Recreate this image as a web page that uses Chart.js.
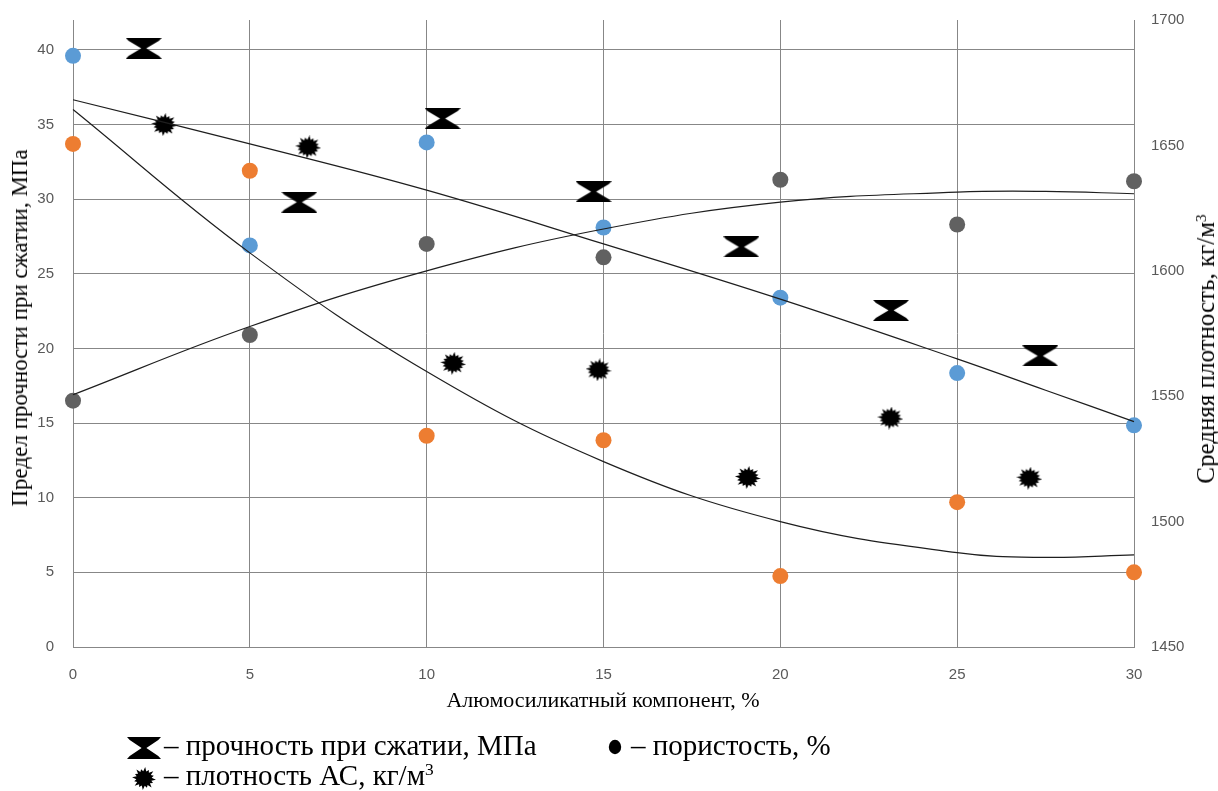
<!DOCTYPE html>
<html lang="ru">
<head>
<meta charset="utf-8">
<title>Прочность, плотность и пористость</title>
<script src="https://cdn.jsdelivr.net/npm/chart.js@4.4.1/dist/chart.umd.min.js"></script>
<style>
  html, body { margin: 0; padding: 0; background: #fff; }
  body { width: 1218px; height: 791px; position: relative; overflow: hidden; }
  #chart { position: absolute; left: 0; top: 0; }
  .ttl { position: absolute; white-space: nowrap; font-family: "Liberation Serif", "Times New Roman", serif; font-size: 22px; color: #000; }
  .rot { transform: translate(-50%, -50%) rotate(-90deg); }
  .hc { transform: translate(-50%, -50%); }
  .lg { position: absolute; white-space: nowrap; font-family: "Liberation Serif", "Times New Roman", serif; font-size: 29px; color: #000; line-height: 1; }
  .ico { position: absolute; }
  sup { font-size: 0.6em; vertical-align: 0.55em; line-height: 0; }
</style>
</head>
<body>
<canvas id="chart" width="1218" height="791"></canvas>

<div class="ttl rot" style="left:20px; top:328px; font-size:23px;">Предел прочности при сжатии, МПа</div>
<div class="ttl rot" style="left:1206px; top:349px; font-size:25px;">Средняя плотность, кг/м<sup>3</sup></div>
<div class="ttl hc" style="left:603px; top:700px;">Алюмосиликатный компонент, %</div>

<canvas class="ico" id="icoStrength" width="34" height="22" style="left:127px; top:737px;"></canvas>
<div class="lg" style="left:164px; top:731px;">– прочность при сжатии, МПа</div>
<canvas class="ico" id="icoPoro" width="14" height="16" style="left:608px; top:739px;"></canvas>
<div class="lg" style="left:631px; top:731px;">– пористость, %</div>
<canvas class="ico" id="icoDensity" width="24" height="23" style="left:132px; top:767px;"></canvas>
<div class="lg" style="left:164px; top:761px;">– плотность АС, кг/м<sup>3</sup></div>

<script>
// Composition, % of aluminosilicate component (points on the grid)
const contentX = [0, 5, 10, 15, 20, 25, 30];
const blueVals = [39.6, 26.9, 33.8, 28.1, 23.4, 18.35, 14.85];
const orangeVals = [33.7, 31.9, 14.15, 13.85, 4.75, 9.7, 5.0];
// пористость, %
const porosityVals = [16.5, 20.9, 27.0, 26.1, 31.3, 28.3, 31.2];

// прочность при сжатии, МПа
const strengthX = [2.0, 6.4, 10.45, 14.72, 18.9, 23.13, 27.35];
const strengthVals = [40.1, 29.8, 35.4, 30.5, 26.8, 22.55, 19.5];

// плотность АС, кг/м3 (secondary axis)
const densityX = [2.58, 6.65, 10.75, 14.86, 19.08, 23.11, 27.04];
const densityVals = [1658.3, 1649.4, 1563.1, 1560.5, 1517.6, 1541.3, 1517.3];

// Trend curves
const trendX = [0, 5, 10, 15, 20, 25, 27.5, 30];
const trendBlue = [36.66, 33.7, 30.6, 27.0, 23.3, 19.3, 17.2, 15.1];
const trendOrange = [36.0, 26.4, 18.45, 12.42, 8.4, 6.32, 6.0, 6.17];
const trendPorosity = [16.9, 21.47, 25.2, 28.0, 29.8, 30.47, 30.52, 30.36];

// Axis ticks
const xTicks = { min: 0, max: 30, step: 5 };
const yLeftTicks = { min: 0, max: 42, step: 5 };
const yRightTicks = { min: 1450, max: 1700, step: 50 };

const pairs = (xs, ys) => xs.map((x, i) => ({ x, y: ys[i] }));

// Marker drawings
function drawHourglass(g, w, h) {
  const hw = w / 2, hh = h / 2;
  g.save();
  g.translate(hw, hh);
  g.beginPath();
  g.moveTo(-hw, -hh);
  g.lineTo(hw, -hh);
  g.lineTo(hw * 0.84, -hh * 0.72);
  g.lineTo(hw * 0.14, 0);
  g.lineTo(hw * 0.84, hh * 0.72);
  g.lineTo(hw, hh);
  g.lineTo(-hw, hh);
  g.lineTo(-hw * 0.84, hh * 0.72);
  g.lineTo(-hw * 0.14, 0);
  g.lineTo(-hw * 0.84, -hh * 0.72);
  g.closePath();
  g.fillStyle = '#000';
  g.fill();
  g.restore();
}
function drawBurst(g, w, h) {
  const n = 16;
  g.save();
  g.translate(w / 2, h / 2);
  g.beginPath();
  for (let i = 0; i < 2 * n; i++) {
    const a = i * Math.PI / n + 0.1;
    const k = i % 2 === 0 ? (i % 4 === 0 ? 1 : 0.85) : 0.64;
    const px = Math.cos(a) * (w / 2) * k;
    const py = Math.sin(a) * (h / 2) * k;
    if (i === 0) g.moveTo(px, py); else g.lineTo(px, py);
  }
  g.closePath();
  g.fillStyle = '#000';
  g.fill();
  g.restore();
}
function makeMarker(fn, w, h) {
  const c = document.createElement('canvas');
  c.width = w; c.height = h;
  fn(c.getContext('2d'), w, h);
  return c;
}
const hourglassImg = makeMarker(drawHourglass, 36, 21);
const burstImg = makeMarker(drawBurst, 26, 23);

// Legend icons
drawHourglass(document.getElementById('icoStrength').getContext('2d'), 34, 22);
drawBurst(document.getElementById('icoDensity').getContext('2d'), 24, 23);
(function () {
  const g = document.getElementById('icoPoro').getContext('2d');
  g.beginPath();
  g.ellipse(7, 8, 6.2, 7.2, 0, 0, Math.PI * 2);
  g.fillStyle = '#000';
  g.fill();
})();

const GRID = '#878787';
const TICK = '#595959';
const tickFont = { family: '"Liberation Sans", Arial, sans-serif', size: 15 };

// vertical axes: keep the plot area edge fixed regardless of tick label padding
function fixVertical(width) {
  return function (s) {
    s.width = width;
    s.paddingTop = 0;
    s.paddingBottom = 0;
  };
}

const dotSet = (label, xs, ys, color) => ({
  label, data: pairs(xs, ys), yAxisID: 'y', showLine: false,
  pointRadius: 8, pointHoverRadius: 8, pointBackgroundColor: color,
  pointBorderColor: color, pointBorderWidth: 0, clip: false, order: 2
});
const trendSet = (label, ys) => ({
  label, data: pairs(trendX, ys), yAxisID: 'y', showLine: true,
  pointRadius: 0, pointHoverRadius: 0, borderColor: '#1e1e1e', borderWidth: 1.2,
  tension: 0.4, fill: false, clip: false, order: 0
});

new Chart(document.getElementById('chart'), {
  type: 'scatter',
  data: {
    datasets: [
      dotSet('Серия 1', contentX, blueVals, '#5B9BD5'),
      dotSet('Серия 2', contentX, orangeVals, '#ED7D31'),
      dotSet('пористость, %', contentX, porosityVals, '#616161'),
      {
        label: 'прочность при сжатии, МПа', data: pairs(strengthX, strengthVals), yAxisID: 'y',
        showLine: false, pointStyle: hourglassImg, pointRadius: 10, clip: false, order: 1
      },
      {
        label: 'плотность АС, кг/м3', data: pairs(densityX, densityVals), yAxisID: 'y2',
        showLine: false, pointStyle: burstImg, pointRadius: 10, clip: false, order: 1
      },
      trendSet('Тренд 1', trendBlue),
      trendSet('Тренд 2', trendOrange),
      trendSet('Тренд пористости', trendPorosity)
    ]
  },
  options: {
    responsive: false,
    animation: false,
    events: [],
    layout: { padding: { top: 20, left: 0, right: 0, bottom: 0 } },
    plugins: { legend: { display: false }, tooltip: { enabled: false } },
    scales: {
      x: {
        type: 'linear', min: xTicks.min, max: xTicks.max,
        ticks: { stepSize: xTicks.step, padding: 19, color: TICK, font: tickFont },
        grid: { color: GRID, lineWidth: 1, drawTicks: false },
        border: { color: GRID, width: 1 },
        afterFit(s) { s.height = 144; s.paddingLeft = 0; s.paddingRight = 0; }
      },
      y: {
        type: 'linear', position: 'left', min: yLeftTicks.min, max: yLeftTicks.max,
        ticks: { stepSize: yLeftTicks.step, padding: 19, color: TICK, font: tickFont },
        afterBuildTicks(s) { s.ticks = s.ticks.filter(t => t.value % yLeftTicks.step === 0); },
        grid: { color: GRID, lineWidth: 1, drawTicks: false },
        border: { color: GRID, width: 1 },
        afterFit: fixVertical(73)
      },
      y2: {
        type: 'linear', position: 'right', min: yRightTicks.min, max: yRightTicks.max,
        ticks: { stepSize: yRightTicks.step, padding: 17, color: TICK, font: tickFont, callback: v => String(v) },
        grid: { drawOnChartArea: false, drawTicks: false },
        border: { color: GRID, width: 1 },
        afterFit: fixVertical(84)
      }
    }
  }
});
</script>
</body>
</html>
